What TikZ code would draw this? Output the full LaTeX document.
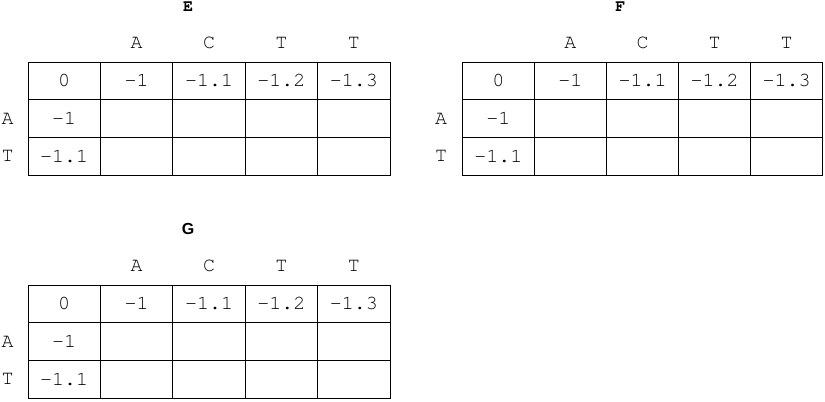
\documentclass[tikz,border=0pt]{standalone}
\usepackage{fontspec}
\setmonofont{TeX Gyre Cursor}
\setsansfont{Liberation Sans}
\begin{document}
\begin{tikzpicture}[x=0.75pt,y=-0.75pt,
    gridline/.style={line width=0.75pt},
    cell/.style={inner sep=0pt,font=\ttfamily\fontsize{15}{18}\selectfont},
    titlemono/.style={inner sep=0pt,font=\ttfamily\bfseries\fontsize{12.5}{15}\selectfont},
    titlesans/.style={inner sep=0pt,font=\sffamily\bfseries\fontsize{12}{14}\selectfont}]
      \useasboundingbox (0,0) rectangle (825,401);
      % table E
      \node[titlemono] (E) at (188,6.6) {E};
      \node[cell] (E-h1) at (136.6,43) {A};
      \node[cell] (E-h2) at (209,43) {C};
      \node[cell] (E-h3) at (281.4,43) {T};
      \node[cell] (E-h4) at (353.8,43) {T};
      \node[cell] (E-r1) at (7.5,118.55) {A};
      \node[cell] (E-r2) at (7.5,156.25) {T};
      \draw[gridline] (28,62) rectangle (390,175.1);
      \draw[gridline] (28,99.7) -- (390,99.7);
      \draw[gridline] (28,137.4) -- (390,137.4);
      \draw[gridline] (100.4,62) -- (100.4,175.1);
      \draw[gridline] (172.8,62) -- (172.8,175.1);
      \draw[gridline] (245.2,62) -- (245.2,175.1);
      \draw[gridline] (317.6,62) -- (317.6,175.1);
      \node[cell] (E-00) at (64.2,80.85) {0};
      \node[cell] (E-01) at (136.6,80.85) {-1};
      \node[cell] (E-02) at (209,80.85) {-1.1};
      \node[cell] (E-03) at (281.4,80.85) {-1.2};
      \node[cell] (E-04) at (353.8,80.85) {-1.3};
      \node[cell] (E-10) at (64.2,118.55) {-1};
      \node[cell] (E-20) at (64.2,156.25) {-1.1};
      % table F
      \node[titlemono] (F) at (620.3,6.6) {F};
      \node[cell] (F-h1) at (570.4,43) {A};
      \node[cell] (F-h2) at (642.5,43) {C};
      \node[cell] (F-h3) at (714.6,43) {T};
      \node[cell] (F-h4) at (786.7,43) {T};
      \node[cell] (F-r1) at (441,118.55) {A};
      \node[cell] (F-r2) at (441,156.25) {T};
      \draw[gridline] (462.3,62) rectangle (822.7,175.1);
      \draw[gridline] (462.3,99.7) -- (822.7,99.7);
      \draw[gridline] (462.3,137.4) -- (822.7,137.4);
      \draw[gridline] (534.4,62) -- (534.4,175.1);
      \draw[gridline] (606.5,62) -- (606.5,175.1);
      \draw[gridline] (678.5,62) -- (678.5,175.1);
      \draw[gridline] (750.6,62) -- (750.6,175.1);
      \node[cell] (F-00) at (498.3,80.85) {0};
      \node[cell] (F-01) at (570.4,80.85) {-1};
      \node[cell] (F-02) at (642.5,80.85) {-1.1};
      \node[cell] (F-03) at (714.6,80.85) {-1.2};
      \node[cell] (F-04) at (786.7,80.85) {-1.3};
      \node[cell] (F-10) at (498.3,118.55) {-1};
      \node[cell] (F-20) at (498.3,156.25) {-1.1};
      % table G
      \node[titlesans] (G) at (188.2,229.2) {G};
      \node[cell] (G-h1) at (136.6,266) {A};
      \node[cell] (G-h2) at (209,266) {C};
      \node[cell] (G-h3) at (281.4,266) {T};
      \node[cell] (G-h4) at (353.8,266) {T};
      \node[cell] (G-r1) at (7.5,341.55) {A};
      \node[cell] (G-r2) at (7.5,379.25) {T};
      \draw[gridline] (28,285) rectangle (390,398.1);
      \draw[gridline] (28,322.7) -- (390,322.7);
      \draw[gridline] (28,360.4) -- (390,360.4);
      \draw[gridline] (100.4,285) -- (100.4,398.1);
      \draw[gridline] (172.8,285) -- (172.8,398.1);
      \draw[gridline] (245.2,285) -- (245.2,398.1);
      \draw[gridline] (317.6,285) -- (317.6,398.1);
      \node[cell] (G-00) at (64.2,303.85) {0};
      \node[cell] (G-01) at (136.6,303.85) {-1};
      \node[cell] (G-02) at (209,303.85) {-1.1};
      \node[cell] (G-03) at (281.4,303.85) {-1.2};
      \node[cell] (G-04) at (353.8,303.85) {-1.3};
      \node[cell] (G-10) at (64.2,341.55) {-1};
      \node[cell] (G-20) at (64.2,379.25) {-1.1};
\end{tikzpicture}
\end{document}
